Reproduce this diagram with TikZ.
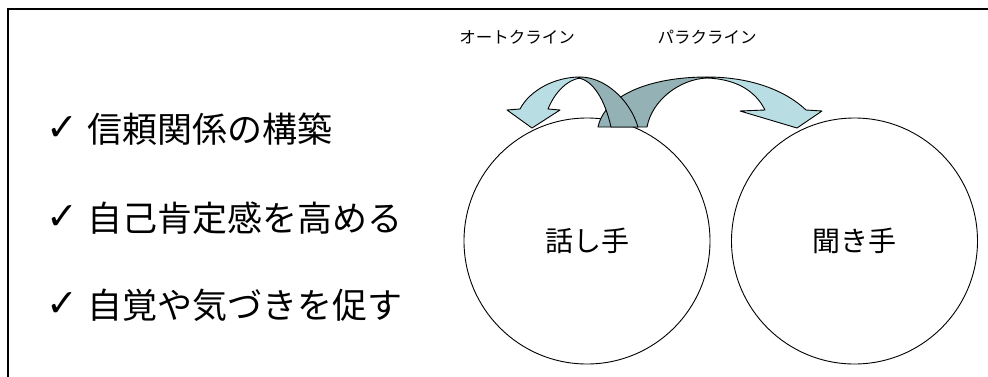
\documentclass[tikz,border=0pt]{standalone}
\usepackage{fontspec}
\newfontfamily\jp{Noto Sans CJK JP}
\newfontfamily\dv{DejaVu Sans}
\definecolor{arrlight}{RGB}{184,222,227}
\definecolor{arrdark}{RGB}{148,178,181}
\begin{document}
\begin{tikzpicture}[x=1pt,y=-1pt,
  bullettext/.style={anchor=west,inner sep=0,font=\jp\fontsize{35}{40}\selectfont},
  checkmark/.style={anchor=base west,inner sep=0,font=\dv\fontsize{38}{44}\selectfont},
  person/.style={circle,draw,line width=0.9pt,fill=white,minimum size=246pt,inner sep=0,font=\jp\fontsize{28}{32}\selectfont},
  crinelabel/.style={inner sep=0,font=\jp\fontsize{16.5}{20}\selectfont},
  lightpart/.style={fill=arrlight,draw=black,line width=0.9pt,line join=round},
  darkpart/.style={fill=arrdark,draw=black,line width=0.9pt,line join=round}]
\useasboundingbox (0,0) rectangle (988,376);
% frame (only top and left edges visible)
\draw[line width=2pt] (8,377) -- (8,9) -- (989,9);

% bullets
\node[checkmark] (c1) at (46,140) {✓};
\node[bullettext] (b1) at (87,129) {信頼関係の構築};
\node[checkmark] (c2) at (46,229) {✓};
\node[bullettext] (b2) at (87,218) {自己肯定感を高める};
\node[checkmark] (c3) at (46,316) {✓};
\node[bullettext] (b3) at (87,305) {自覚や気づきを促す};

% circles
\node[person] (speaker) at (587,241) {話し手};
\node[person] (listener) at (854.5,241) {聞き手};

% labels
\node[crinelabel] (auto) at (517,37) {オートクライン};
\node[crinelabel] (para) at (707,37) {パラクライン};

% paracrine arrow
\filldraw[lightpart] (707,77) .. controls (750,77) and (785,90) .. (806,110)
  -- (822,111) -- (797,128) -- (740,111) -- (765,110)
  .. controls (755,90) and (735,79) .. (707,78) -- cycle;
\filldraw[darkpart] (598,127) .. controls (605,95) and (650,77) .. (707,77)
  -- (707,78) .. controls (680,79) and (652,100) .. (647,127) -- cycle;

% autocrine arrow
\filldraw[lightpart] (580,77) .. controls (555,77) and (530,90) .. (520,109)
  -- (507,110) -- (532,128) -- (560,110) -- (548,109)
  .. controls (555,92) and (567,80) .. (580,78) -- cycle;
\filldraw[darkpart] (580,77) .. controls (605,77) and (630,100) .. (638,127)
  -- (611,127) .. controls (605,100) and (593,80) .. (578,78) -- cycle;
\end{tikzpicture}
\end{document}
